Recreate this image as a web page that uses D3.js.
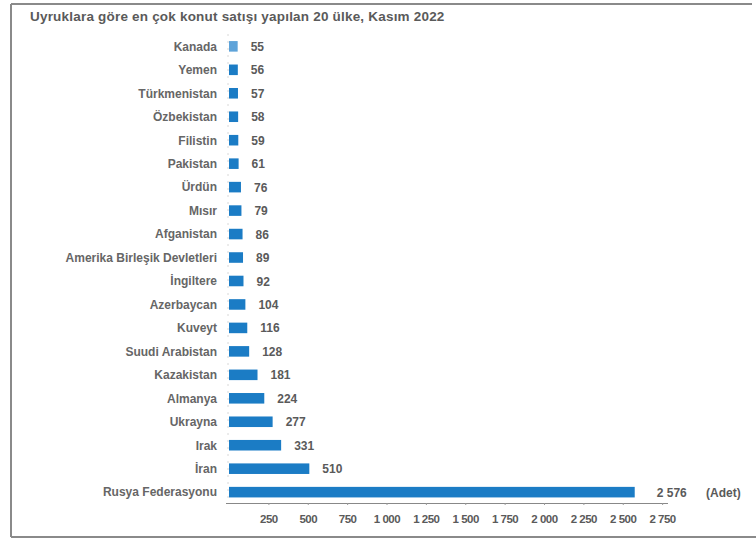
<!DOCTYPE html>
<html><head><meta charset="utf-8">
<script src="https://cdn.jsdelivr.net/npm/d3@7"></script>
<style>body{margin:0;background:#fff}svg{display:block;font-family:"Liberation Sans",Arial,sans-serif}</style>
</head><body>
<svg id="c" width="756" height="544"></svg>
<script>
const title = "Uyruklara göre en çok konut satışı yapılan 20 ülke, Kasım 2022";
const countries = ["Kanada","Yemen","Türkmenistan","Özbekistan","Filistin","Pakistan","Ürdün","Mısır","Afganistan","Amerika Birleşik Devletleri","İngiltere","Azerbaycan","Kuveyt","Suudi Arabistan","Kazakistan","Almanya","Ukrayna","Irak","İran","Rusya Federasyonu"];
const sales = [55,56,57,58,59,61,76,79,86,89,92,104,116,128,181,224,277,331,510,2576];
const tickValues = [250,500,750,1000,1250,1500,1750,2000,2250,2500,2750];
const unitLabel = "(Adet)";

const svg = d3.select("#c");
const fmt = v => d3.format(",")(v).replace(/,/g, " ");

// frame
svg.append("path").attr("d","M11,4 H752 M11,4 V537 M11,537 H756")
  .attr("fill","none").attr("stroke","#8a8a8a").attr("stroke-width",2);

svg.append("text").attr("x",30).attr("y",21).attr("font-size",13.5).attr("font-weight","bold")
  .attr("letter-spacing","0.2").attr("fill","#5a5a5a").text(title);

const x = d3.scaleLinear().domain([0,2800]).range([229,670]);
const y = d3.scaleBand().domain(countries).range([34.5,504]).paddingInner(0.55).paddingOuter(0.28);

// faint left axis
svg.append("line").attr("x1",228).attr("x2",228).attr("y1",34).attr("y2",502)
  .attr("stroke","#d8d8d8").attr("stroke-dasharray","2,5");

svg.selectAll("rect.bar").data(countries).join("rect").attr("class","bar")
  .attr("x",x(0)).attr("y",d=>y(d)).attr("height",y.bandwidth())
  .attr("width",(d,i)=>x(sales[i])-x(0))
  .attr("fill",(d,i)=>i===0?"#5ea3d9":"#1b7cc5");

svg.selectAll("text.cat").data(countries).join("text").attr("class","cat")
  .attr("x",217).attr("y",d=>y(d)+y.bandwidth()/2).attr("dy","0.36em")
  .attr("text-anchor","end").attr("font-size",12).attr("font-weight","bold")
  .attr("fill","#666").text(d=>d);

svg.selectAll("text.val").data(countries).join("text").attr("class","val")
  .attr("x",(d,i)=>x(sales[i])+(i===19?22:13)).attr("y",d=>y(d)+y.bandwidth()/2).attr("dy","0.38em")
  .attr("font-size",12).attr("font-weight","bold").attr("fill","#5a5a5a")
  .text((d,i)=>fmt(sales[i]));

svg.append("text").attr("x",706).attr("y",y(countries[19])+y.bandwidth()/2).attr("dy","0.38em")
  .attr("font-size",12).attr("font-weight","bold").attr("fill","#5a5a5a").text(unitLabel);

const ax = svg.append("g").attr("transform","translate(0,503)")
  .call(d3.axisBottom(x).tickValues(tickValues).tickSize(2).tickPadding(10).tickFormat(fmt));
ax.select(".domain").attr("stroke","#888").attr("d","M226,0.5H668");
ax.selectAll(".tick line").attr("stroke","#999");
ax.selectAll(".tick text").attr("font-size",11.5).attr("font-weight","bold")
  .attr("fill","#5a5a5a").attr("letter-spacing","-0.5");
</script>
</body></html>
